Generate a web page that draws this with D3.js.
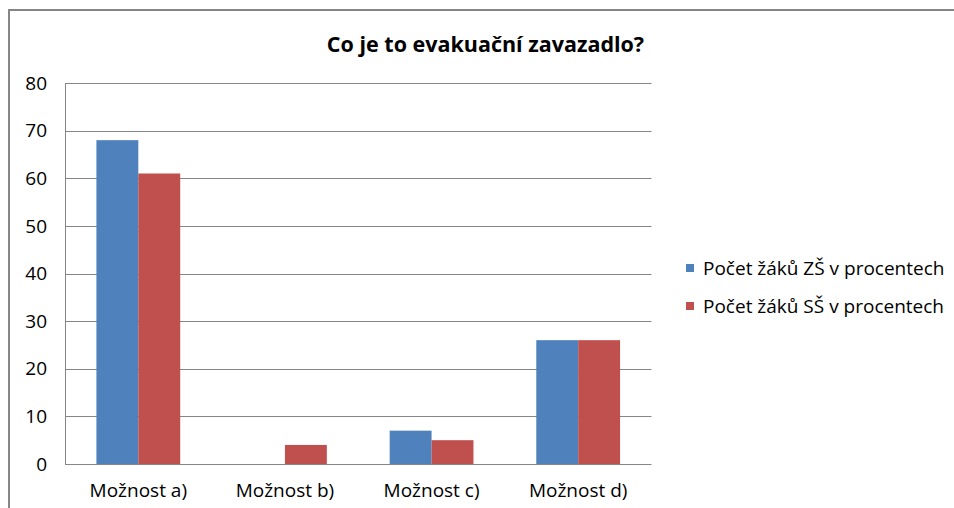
<!DOCTYPE html>
<html><head><meta charset="utf-8">
<script src="https://cdn.jsdelivr.net/npm/d3@7"></script>
<style>
body{margin:0;background:#fff;}
text{font-family:"Open Sans",sans-serif;fill:#000;}
</style></head>
<body><svg id="c" width="954" height="508"></svg>
<script>
const categories = ["Možnost a)", "Možnost b)", "Možnost c)", "Možnost d)"];
const seriesNames = ["Počet žáků ZŠ v procentech", "Počet žáků SŠ v procentech"];
const zsValues = [68, 0, 7, 26];
const ssValues = [61, 4, 5, 26];
const yTicks = [0, 10, 20, 30, 40, 50, 60, 70, 80];
const colors = ["#4F81BD", "#C0504D"];
const title = "Co je to evakuační zavazadlo?";

const svg = d3.select("#c");
const m = {left: 65, right: 651.5, top: 83, bottom: 464};

// outer border
svg.append("rect").attr("x", 9).attr("y", 10).attr("width", 960).attr("height", 520)
  .attr("fill", "none").attr("stroke", "#868686").attr("stroke-width", 2);

const x0 = d3.scaleBand().domain(categories).range([m.left, m.right]).padding(0);
const x1 = d3.scaleBand().domain([0, 1]).range([0, x0.bandwidth()]).paddingOuter(0.75).paddingInner(0);
const y = d3.scaleLinear().domain([0, 80]).range([m.bottom, m.top]);

// gridlines
svg.append("g").selectAll("line").data(yTicks).join("line")
  .attr("x1", m.left).attr("x2", m.right)
  .attr("y1", d => Math.round(y(d)) + 0.5).attr("y2", d => Math.round(y(d)) + 0.5)
  .attr("stroke", "#868686").attr("stroke-width", 1);

// y axis line
svg.append("line").attr("x1", m.left + 0.5).attr("x2", m.left + 0.5)
  .attr("y1", m.top).attr("y2", m.bottom).attr("stroke", "#868686");

// y tick labels
svg.append("g").selectAll("text").data(yTicks).join("text")
  .attr("x", 47).attr("y", d => y(d)).attr("dy", "0.35em")
  .attr("text-anchor", "end").style("font-size", "19px").text(d => d);

const series = [zsValues, ssValues];
const g = svg.append("g");
categories.forEach((c, i) => {
  series.forEach((vals, s) => {
    const v = vals[i];
    if (v > 0) {
      g.append("rect")
        .attr("x", x0(c) + x1(s)).attr("width", x1.bandwidth())
        .attr("y", y(v)).attr("height", y(0) - y(v))
        .attr("fill", colors[s]);
    }
  });
});

// category labels
svg.append("g").selectAll("text").data(categories).join("text")
  .attr("x", d => x0(d) + x0.bandwidth() / 2).attr("y", 490).attr("dy", "0.35em")
  .attr("text-anchor", "middle").style("font-size", "19px").text(d => d);

// title
svg.append("text").attr("x", 485.5).attr("y", 44).attr("dy", "0.35em")
  .attr("text-anchor", "middle").style("font-size", "21.5px").style("font-weight", "bold").text(title);

// legend
const lg = svg.append("g");
seriesNames.forEach((n, i) => {
  const ly = 268 + i * 38;
  lg.append("rect").attr("x", 686).attr("y", ly - 4).attr("width", 8).attr("height", 8).attr("fill", colors[i]);
  lg.append("text").attr("x", 703).attr("y", ly).attr("dy", "0.35em").style("font-size", "19px").text(n);
});
</script></body></html>
